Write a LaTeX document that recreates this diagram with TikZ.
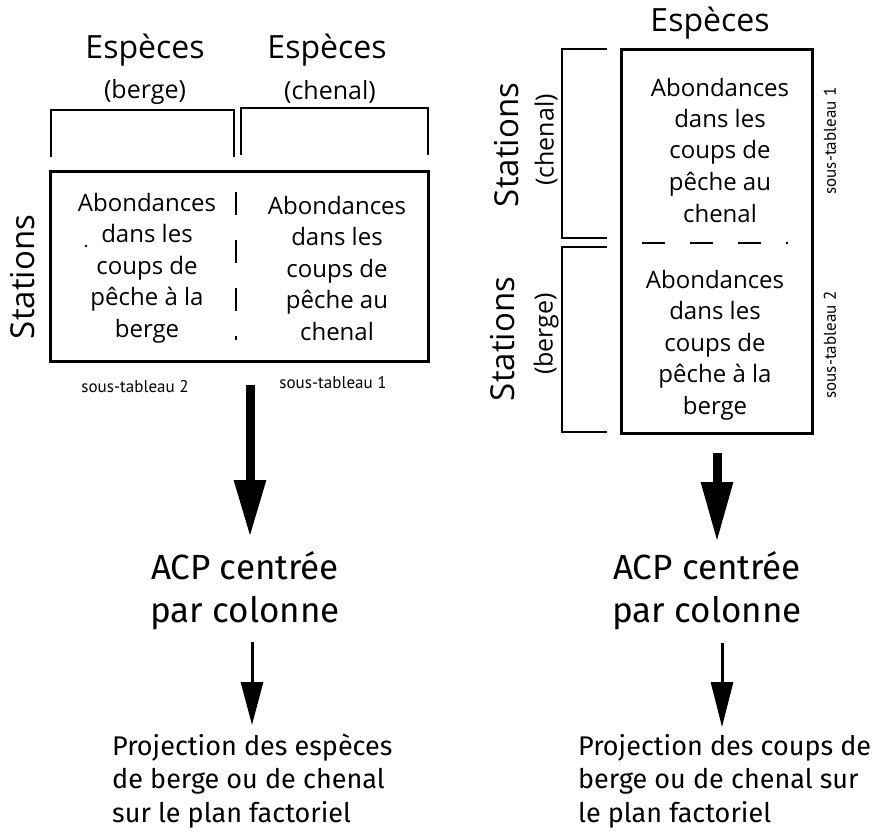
\documentclass[tikz,border=0pt]{standalone}
\usepackage{fontspec}
\setmainfont{Open Sans}
\newfontfamily\condfont{Fira Sans}
\newfontfamily\smallfont{PT Sans}
\usetikzlibrary{arrows.meta}
\begin{document}
\begin{tikzpicture}[x=1pt,y=-1pt,
  boxframe/.style={draw, line width=3pt, inner sep=0pt},
  brk/.style={line width=1.8pt},
  celltext/.style={align=center, font=\fontsize{24}{31.5}\selectfont, inner sep=0pt},
  head/.style={font=\fontsize{32}{36}\selectfont, inner sep=0pt},
  sub/.style={font=\fontsize{25}{28}\selectfont, inner sep=0pt},
  stat/.style={font=\fontsize{33}{36}\selectfont, rotate=90, inner sep=0pt},
  substat/.style={font=\fontsize{25}{28}\selectfont, rotate=90, inner sep=0pt},
  small/.style={font=\smallfont\fontsize{17}{19}\selectfont, inner sep=0pt},
  acp/.style={font=\condfont\fontsize{35}{43}\selectfont, align=center, inner sep=0pt},
  proj/.style={font=\condfont\fontsize{27}{33.5}\selectfont, align=left, inner sep=0pt, anchor=west},
  bigarrow/.style={line width=9pt, -{Triangle[length=57pt,width=30pt]}},
  thinarrow/.style={line width=3pt, -{Triangle[length=43pt,width=22pt]}},
  divider/.style={line width=2.5pt, dash pattern=on 23pt off 25pt}
]
\path[use as bounding box, fill=white] (0,0) rectangle (878,832);

% ---------------- left panel ----------------
\node[head] (hL1) at (145,50) {Espèces};
\node[sub] (sL1) at (145,92) {(berge)};
\node[head] (hL2) at (327,50) {Espèces};
\node[sub] (sL2) at (330,92) {(chenal)};
\draw[brk] (51,157) -- (51,110) -- (234,110) -- (234,157);
\draw[brk] (241,155) -- (241,108) -- (428,108) -- (428,155);
\node[boxframe, minimum width=378pt, minimum height=190pt] (boxL) at (239,266) {};
\draw[divider] (236,192) -- (236,340);
\node[celltext] (tL1) at (147,268) {Abondances\\dans les\\coups de\\pêche à la\\berge};
\node[celltext] (tL2) at (337,268) {Abondances\\dans les\\coups de\\pêche au\\chenal};
\fill (86,246) circle (1.3pt);
\node[stat] (stL) at (23,277) {Stations};
\node[small] (stabL2) at (135,387) {sous-tableau 2};
\node[small] (stabL1) at (333,383) {sous-tableau 1};

\coordinate (aL1s) at (250,385);
\coordinate (aL1e) at (250,537);
\draw[bigarrow] (aL1s) -- (aL1e);
\node[acp] (acpL) at (245,591) {ACP centrée\\par colonne};
\coordinate (aL2s) at (252,642);
\coordinate (aL2e) at (252,725);
\draw[thinarrow] (aL2s) -- (aL2e);
\node[proj] (projL) at (112,781) {Projection des espèces\\de berge ou de chenal\\sur le plan factoriel};

% ---------------- right panel ----------------
\node[head] (hR) at (710,23) {Espèces};
\node[boxframe, minimum width=191pt, minimum height=383pt] (boxR) at (716.5,241.5) {};
\draw[divider] (642,243) -- (788,243);
\node[celltext] (tR1) at (720,150) {Abondances\\dans les\\coups de\\pêche au\\chenal};
\node[celltext] (tR2) at (715,345) {Abondances\\dans les\\coups de\\pêche à la\\berge};
\draw[brk] (607,49) -- (562,49) -- (562,238) -- (607,238);
\draw[brk] (607,247) -- (562,247) -- (562,432) -- (607,432);
\node[stat] (stR1) at (507,145) {Stations};
\node[substat] (ssR1) at (546,140) {(chenal)};
\node[stat] (stR2) at (503,339) {Stations};
\node[substat] (ssR2) at (546,334) {(berge)};
\node[small, rotate=90] (stabR1) at (830,141) {sous-tableau 1};
\node[small, rotate=90] (stabR2) at (830,345) {sous-tableau 2};

\coordinate (aR1s) at (717,453);
\coordinate (aR1e) at (717,542);
\draw[bigarrow, -{Triangle[length=60pt,width=30pt]}] (aR1s) -- (aR1e);
\node[acp] (acpR) at (707,591) {ACP centrée\\par colonne};
\coordinate (aR2s) at (722,643);
\coordinate (aR2e) at (722,727);
\draw[thinarrow, -{Triangle[length=45pt,width=22pt]}] (aR2s) -- (aR2e);
\node[proj] (projR) at (578,781) {Projection des coups de\\berge ou de chenal sur\\le plan factoriel};
\end{tikzpicture}
\end{document}
